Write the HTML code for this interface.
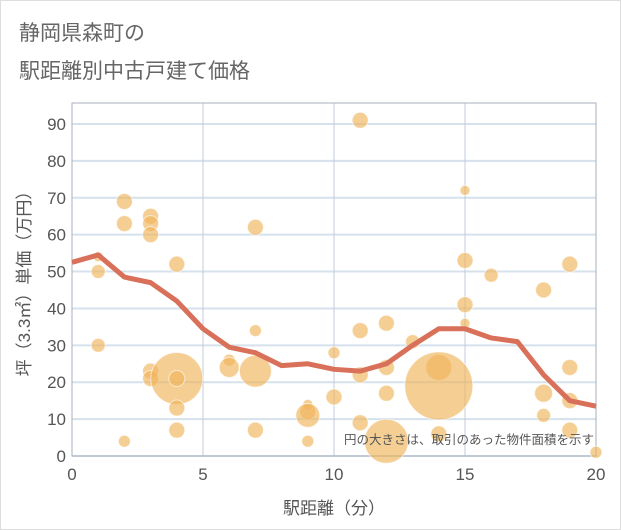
<!DOCTYPE html>
<html><head><meta charset="utf-8"><style>
body{margin:0;background:#fff;}
#wrap{position:relative;width:619px;height:528px;border:1px solid #ddd;font-family:"Liberation Sans","Noto Sans CJK JP",sans-serif;}
.title{position:absolute;left:18px;font-size:21px;color:#666;}
</style></head><body>
<div id="wrap">
<div class="title" style="top:16px">静岡県森町の</div>
<div class="title" style="top:54px">駅距離別中古戸建て価格</div>
<svg id="svg" width="621" height="530" style="position:absolute;left:-1px;top:-1px"></svg>
</div>
<script>
const xTicks=[0,5,10,15,20];
const yTicks=[0,10,20,30,40,50,60,70,80,90];
const bubbleX=[1,1,1,2,2,2,3,3,3,3,3,4,4,4,4,4,6,6,7,7,7,7,9,9,9,9,10,10,11,11,11,11,12,12,12,12,13,14,14,14,15,15,15,15,16,18,18,18,19,19,19,19,20];
const bubbleY=[50,30,54,69,63,4,65,63,60,23,21,52,21,21,13,7,26,24,62,34,23,7,14,12,11,4,28,16,91,34,22,9,36,24,17,4,31,24,19,6,72,53,41,36,49,45,17,11,52,24,15,7,1];
const bubbleSize=[7,7,5,8,8,6,8,8,8,8,8,8,26,8,8,8,6,10,8,6,16,8,5,8,12,6,6,8,8,8,8,8,8,8,8,22,7,13,34,8,5,8,8,5,7,8,9,7,8,8,8,8,6];
const lineX=[0,1,2,3,4,5,6,7,8,9,10,11,12,13,14,15,16,17,18,19,20];
const lineY=[52.5,54.5,48.5,47,42,34.5,29.5,28,24.5,25,23.5,23,25,30,34.5,34.5,32,31,22,15,13.5];
const L=72,R=596,T=103,B=456;
const xs=v=>L+(R-L)*v/20, ys=v=>B-(B-124)*v/90;
const svg=document.getElementById('svg');
const NS='http://www.w3.org/2000/svg';
function mk(t,a,p){const e=document.createElementNS(NS,t);for(const k in a)e.setAttribute(k,a[k]);(p||svg).appendChild(e);return e;}
yTicks.forEach(v=>{const l=mk('line',{x1:L,x2:R,y1:ys(v),y2:ys(v),stroke:'#d5e1ec','stroke-width':2});

const t=mk('text',{x:L-6,y:ys(v)+6,'text-anchor':'end','font-size':17,fill:'#555'});t.textContent=v;
});
xTicks.forEach(v=>{const l=mk('line',{x1:xs(v),x2:xs(v),y1:T,y2:B,stroke:'#c3ccd8','stroke-width':1});

const t=mk('text',{x:xs(v),y:B+24,'text-anchor':'middle','font-size':17,fill:'#555'});t.textContent=v;
});
const fr=mk('rect',{x:L,y:T,width:R-L,height:B-T,fill:'none',stroke:'#a9b2bd','stroke-width':1});

bubbleX.forEach((x,i)=>{const c=mk('circle',{cx:xs(x),cy:ys(bubbleY[i]),r:bubbleSize[i],fill:'rgba(239,180,90,0.65)',stroke:'#fff','stroke-opacity':0.6,'stroke-width':1});
});
const p=mk('polyline',{points:lineX.map((x,i)=>xs(x)+','+ys(lineY[i])).join(' '),fill:'none',stroke:'#d9705a','stroke-width':5,'stroke-linejoin':'round'});

const n=mk('text',{x:594,y:444,'text-anchor':'end','font-size':12.5,fill:'#555'});n.textContent='円の大きさは、取引のあった物件面積を示す';

const xt=mk('text',{x:(L+R)/2,y:514,'text-anchor':'middle','font-size':17,fill:'#555'});xt.textContent='駅距離（分）';

const yt=mk('text',{x:0,y:0,'text-anchor':'middle','font-size':17,fill:'#555',transform:'translate(30,'+((T+B)/2)+') rotate(-90)'});yt.textContent='坪（3.3㎡）単価（万円）';

</script>
</body></html>
